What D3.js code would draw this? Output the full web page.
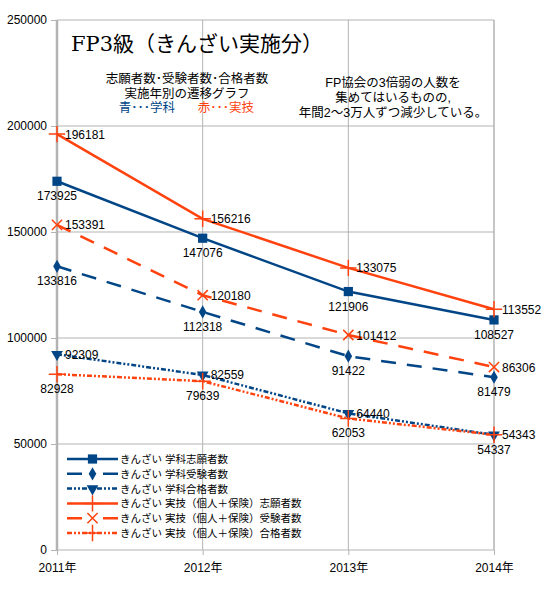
<!DOCTYPE html>
<html>
<head>
<meta charset="utf-8">
<script src="https://cdn.jsdelivr.net/npm/d3@7"></script>
<style>
  body { margin: 0; background: #fff; }
  text { font-family: "Liberation Sans", "Noto Sans CJK JP", sans-serif; fill: #000; }
  .title { font-family: "DejaVu Serif", "Liberation Serif", "Noto Sans CJK JP", serif; }
</style>
</head>
<body>
<script>
// data
var years = ["2011年", "2012年", "2013年", "2014年"];
var yTicks = [0, 50000, 100000, 150000, 200000, 250000];

var gakkaShigan = [173925, 147076, 121906, 108527];
var gakkaJuken  = [133816, 112318, 91422, 81479];
var gakkaGokaku = [92309, 82559, 64440, 54343];
var jitsugiShigan = [196181, 156216, 133075, 113552];
var jitsugiJuken  = [153391, 120180, 101412, 86306];
var jitsugiGokaku = [82928, 79639, 62053, 54337];

var seriesNames = ["きんざい 学科志願者数", "きんざい 学科受験者数", "きんざい 学科合格者数",
  "きんざい 実技（個人＋保険）志願者数", "きんざい 実技（個人＋保険）受験者数", "きんざい 実技（個人＋保険）合格者数"];

var blue = "#004586", red = "#ff420e";

var series = [
  {name: seriesNames[0], values: gakkaShigan,   color: blue, dash: null,          marker: "square",   label: "below"},
  {name: seriesNames[1], values: gakkaJuken,    color: blue, dash: "15,11",       marker: "diamond",  label: "below"},
  {name: seriesNames[2], values: gakkaGokaku,   color: blue, dash: "5,2,2,2,2,2", marker: "triangle", label: "right"},
  {name: seriesNames[3], values: jitsugiShigan, color: red,  dash: null,          marker: "plus",     label: "right"},
  {name: seriesNames[4], values: jitsugiJuken,  color: red,  dash: "15,11",       marker: "times",    label: "right"},
  {name: seriesNames[5], values: jitsugiGokaku, color: red,  dash: "5,2,2,2,2,2", marker: "plus",     label: "below"}
];

var outerWidth = 559, outerHeight = 598;
var margin = {top: 20, right: 65, bottom: 48, left: 57},
    width = outerWidth - margin.left - margin.right,
    height = outerHeight - margin.top - margin.bottom;

var x = d3.scalePoint().domain(years).range([0, width]);
var y = d3.scaleLinear().domain([0, 250000]).range([height, 0]);

var svg = d3.select("body").append("svg")
    .attr("width", outerWidth)
    .attr("height", outerHeight)
  .append("g")
    .attr("transform", `translate(${margin.left},${margin.top})`);

// grid
svg.selectAll(".hgrid").data(yTicks).enter().append("line")
    .attr("x1", 0).attr("x2", width)
    .attr("y1", d => y(d)).attr("y2", d => y(d))
    .attr("stroke", "#b3b3b3").attr("stroke-width", 1);
svg.selectAll(".vgrid").data(years).enter().append("line")
    .attr("x1", d => x(d)).attr("x2", d => x(d))
    .attr("y1", 0).attr("y2", height)
    .attr("stroke", "#b3b3b3").attr("stroke-width", (d, i) => i == 0 ? 2.5 : (i == 3 ? 1.5 : 1));

// y axis
var yAxis = svg.append("g")
    .call(d3.axisLeft(y).tickValues(yTicks).tickSize(6).tickPadding(4).tickFormat(d3.format("d")));
yAxis.select(".domain").remove();
yAxis.selectAll("line").attr("stroke", "#b3b3b3");
yAxis.selectAll("text").attr("font-size", 12).attr("fill", "#000");

// x axis
var xAxis = svg.append("g")
    .attr("transform", "translate(0," + height + ")")
    .call(d3.axisBottom(x).tickSize(5).tickPadding(8));
xAxis.select(".domain").remove();
xAxis.selectAll("line").attr("stroke", "#b3b3b3");
xAxis.selectAll("text").attr("font-size", 12).attr("fill", "#000");

// markers
function marker(sel, type, color) {
  var sym = {square: d3.symbolSquare, diamond: d3.symbolDiamond, triangle: d3.symbolTriangle,
             plus: d3.symbolPlus, times: d3.symbolTimes}[type];
  var size = {square: 85, diamond: 50, triangle: 60, plus: 90, times: 70}[type];
  var stroked = (type == "plus" || type == "times");
  sel.append("path")
      .attr("d", d3.symbol().type(sym).size(size))
      .attr("transform", type == "triangle" ? "rotate(180)" : null)
      .attr("fill", stroked ? "none" : color)
      .attr("stroke", stroked ? color : "none")
      .attr("stroke-width", stroked ? 1.5 : 0);
}

var line = d3.line()
    .x((d, i) => x(years[i]))
    .y(d => y(d));

series.forEach(function(s) {
  svg.append("path")
      .datum(s.values)
      .attr("fill", "none")
      .attr("stroke", s.color)
      .attr("stroke-width", 2.5)
      .attr("stroke-dasharray", s.dash)
      .attr("d", line);
});

series.forEach(function(s) {
  s.values.forEach(function(v, i) {
    var g = svg.append("g").attr("transform", `translate(${x(years[i])},${y(v)})`);
    marker(g, s.marker, s.color);
    g.append("text")
        .attr("x", s.label == "right" ? 8 : 0)
        .attr("y", s.label == "right" ? 4.5 : 19)
        .attr("text-anchor", s.label == "right" ? "start" : "middle")
        .attr("font-size", 12)
        .text(v);
  });
});

// legend
var legend = svg.append("g").attr("transform", "translate(10,439)");
series.forEach(function(s, i) {
  var g = legend.append("g").attr("transform", `translate(0,${i * 14.8})`);
  g.append("line").attr("x1", 0).attr("x2", 51)
      .attr("stroke", s.color).attr("stroke-width", 2.5)
      .attr("stroke-dasharray", s.dash == "15,11" ? "15,21" : s.dash);
  marker(g.append("g").attr("transform", "translate(25.5,0)"), s.marker, s.color);
  g.append("text").attr("x", 53).attr("y", 4)
      .attr("font-size", 10.5).text(s.name);
});

// titles
var root = d3.select("svg");
root.append("text").attr("class", "title").attr("x", 71).attr("y", 51)
    .attr("font-size", 21).text("FP3級（きんざい実施分）");

var sub = ["志願者数･受験者数･合格者数", "実施年別の遷移グラフ"];
root.selectAll(".sub").data(sub).enter().append("text")
    .attr("x", 187).attr("y", (d, i) => 83 + i * 14.5)
    .attr("text-anchor", "middle").attr("font-size", 12.5).text(d => d);
root.append("text").attr("x", 147).attr("y", 112)
    .attr("text-anchor", "middle").attr("font-size", 12.5)
    .style("fill", blue).text("青･･･学科");
root.append("text").attr("x", 226).attr("y", 112)
    .attr("text-anchor", "middle").attr("font-size", 12.5)
    .style("fill", red).text("赤･･･実技");

var note = ["FP協会の3倍弱の人数を", "集めてはいるものの,", "年間2～3万人ずつ減少している。"];
root.selectAll(".note").data(note).enter().append("text")
    .attr("x", 393).attr("y", (d, i) => 87 + i * 15)
    .attr("text-anchor", "middle").attr("font-size", 12.5).text(d => d);
</script>
</body>
</html>
